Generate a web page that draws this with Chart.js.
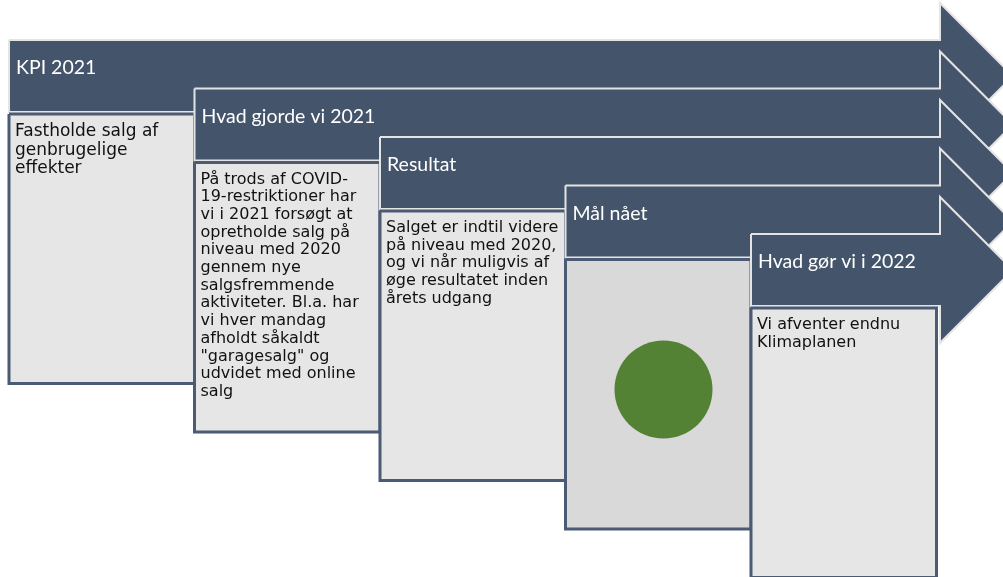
<!DOCTYPE html>
<html>
<head>
<meta charset="utf-8">
<script src="https://cdn.jsdelivr.net/npm/chart.js@4.4.0/dist/chart.umd.min.js"></script>
<style>
  html, body { margin: 0; padding: 0; background: #ffffff; }
  #wrap { width: 1003px; height: 577px; }
</style>
</head>
<body>
<div id="wrap"><canvas id="myChart"></canvas></div>
<script>
// stages of the process arrow
const stageTitles = ["KPI 2021", "Hvad gjorde vi 2021", "Resultat", "Mål nået", "Hvad gør vi i 2022"];
const stageTexts = [
  ["Fastholde salg af", "genbrugelige", "effekter"],
  ["På trods af COVID-", "19-restriktioner har", "vi i 2021 forsøgt at", "opretholde salg på",
   "niveau med 2020", "gennem nye", "salgsfremmende", "aktiviteter. Bl.a. har", "vi hver mandag",
   "afholdt såkaldt", "\"garagesalg\" og", "udvidet med online", "salg"],
  ["Salget er indtil videre", "på niveau med 2020,", "og vi når muligvis af", "øge resultatet inden", "årets udgang"],
  [],
  ["Vi afventer endnu", "Klimaplanen"],
];
// status light per stage (only "Mål nået" has one)
const stageStatus = [null, null, null, "green", null];

// layout, in page pixels (scales run 0..1003 and 0..577)
const W = 1003, H = 577;
const startX = 9, stepX = 185.5;
const startY = 40, stepY = 48.5;
const bandH = 72, headOver = 37, headX = 940;
const boxGap = 2, boxH = 269.5;
const bodySize = [17, 16, 16, 16, 16];
const statusColors = { green: "#548235" };

const arrowFill = "#44546A";
const arrowLine = "#E4E4E4";
const boxLine = "#4B5B73";
const boxFills = ["#E6E6E6", "#E6E6E6", "#E6E6E6", "#D9D9D9", "#E6E6E6"];

function geom(i) {
  const L = startX + i * stepX;
  const T = startY + i * stepY;
  const B = T + bandH;
  const boxTop = B + boxGap;
  return { L, R: L + stepX, T, B, boxTop, boxBottom: boxTop + boxH };
}

const datasets = [];
let seq = 0;
stageTitles.forEach((title, i) => {
  const g = geom(i);
  const tipX = headX + (g.B - g.T + 2 * headOver) / 2;
  datasets.push({
    label: title,
    data: [
      { x: g.L, y: g.T }, { x: headX, y: g.T }, { x: headX, y: g.T - headOver },
      { x: tipX, y: (g.T + g.B) / 2 }, { x: headX, y: g.B + headOver },
      { x: headX, y: g.B }, { x: g.L, y: g.B }, { x: g.L, y: g.T },
    ],
    showLine: true,
    fill: "shape",
    backgroundColor: arrowFill,
    borderColor: arrowLine,
    borderWidth: 2,
    borderJoinStyle: "miter",
    pointRadius: 0,
    pointHoverRadius: 0,
    order: 100 - seq++,
  });
  datasets.push({
    label: title + " box",
    data: [
      { x: g.L, y: g.boxTop }, { x: g.R, y: g.boxTop }, { x: g.R, y: g.boxBottom },
      { x: g.L, y: g.boxBottom }, { x: g.L, y: g.boxTop },
    ],
    showLine: true,
    fill: "shape",
    backgroundColor: boxFills[i],
    borderColor: boxLine,
    borderWidth: 3,
    borderJoinStyle: "miter",
    pointRadius: 0,
    pointHoverRadius: 0,
    order: 100 - seq++,
  });
  if (stageStatus[i]) {
    datasets.push({
      label: title + " status",
      data: [{ x: g.L + 98, y: g.boxTop + 130 }],
      showLine: false,
      backgroundColor: statusColors[stageStatus[i]],
      borderWidth: 0,
      pointRadius: 49,
      pointHoverRadius: 49,
      order: 0,
    });
  }
});

const stageTextPlugin = {
  id: "stageText",
  afterDatasetsDraw(chart) {
    const { ctx, scales: { x, y } } = chart;
    ctx.save();
    stageTitles.forEach((title, i) => {
      const g = geom(i);
      ctx.fillStyle = "#ffffff";
      ctx.font = "19.5px Lato";
      ctx.textBaseline = "alphabetic";
      ctx.fillText(title, x.getPixelForValue(g.L + 7), y.getPixelForValue(g.T + 34));

      ctx.fillStyle = "#111111";
      ctx.font = bodySize[i] + "px 'DejaVu Sans'";
      const lh = bodySize[i] + 1.7;
      stageTexts[i].forEach((line, k) => {
        ctx.fillText(line, x.getPixelForValue(g.L + 6), y.getPixelForValue(g.boxTop + bodySize[i] + 5 + k * lh));
      });
    });
    ctx.restore();
  },
};

new Chart(document.getElementById("myChart"), {
  type: "scatter",
  data: { datasets },
  options: {
    animation: false,
    responsive: true,
    maintainAspectRatio: false,
    events: [],
    layout: { padding: 0, autoPadding: false },
    plugins: {
      legend: { display: false },
      tooltip: { enabled: false },
    },
    scales: {
      x: { type: "linear", min: 0, max: W, display: false },
      y: { type: "linear", min: 0, max: H, reverse: true, display: false },
    },
  },
  plugins: [stageTextPlugin],
});
</script>
</body>
</html>
